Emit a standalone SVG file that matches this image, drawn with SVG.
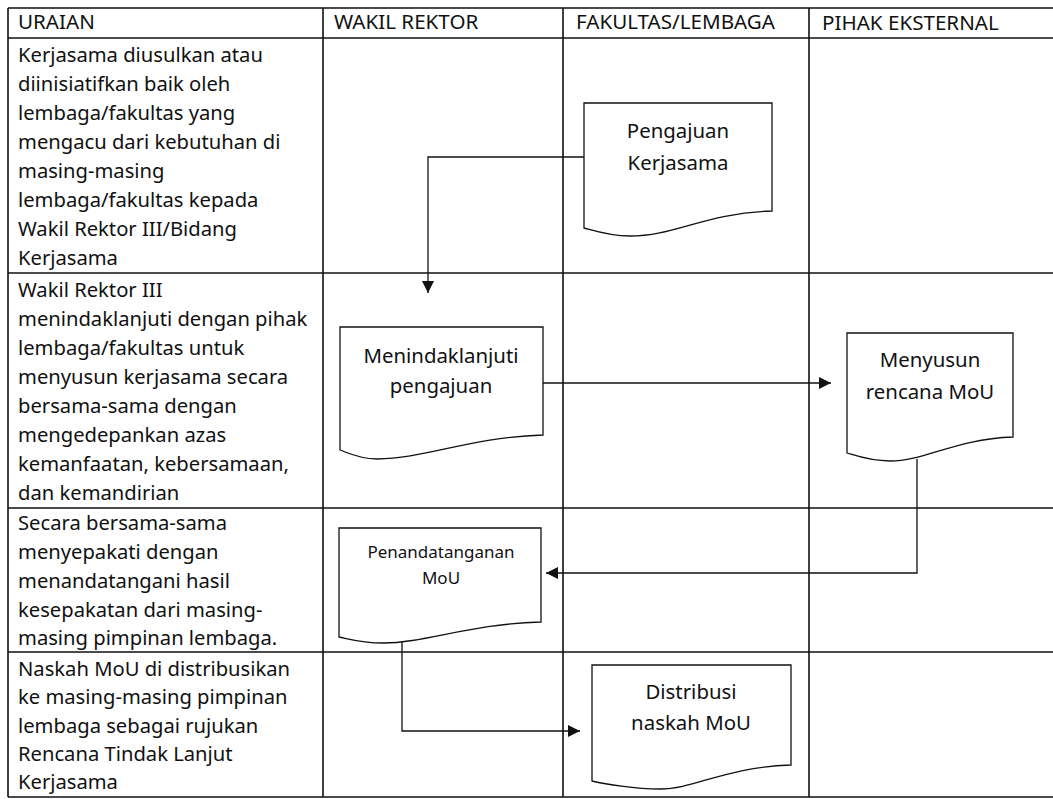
<svg xmlns="http://www.w3.org/2000/svg" width="1053" height="799" viewBox="0 0 1053 799">
<style>
.grid{stroke:#111;stroke-width:1.6;fill:none}
.doc{stroke:#111;stroke-width:1.3;fill:#fff}
.con{stroke:#111;stroke-width:1.3;fill:none}
text{font-family:"Noto Sans","Open Sans",sans-serif;fill:#111}
.h{font-size:20.6px}
.b{font-size:20.2px}
.c{font-size:20.4px;text-anchor:middle}
.s{font-size:17px;text-anchor:middle}
</style>
<defs>
<marker id="arr" markerUnits="userSpaceOnUse" markerWidth="12" markerHeight="12" viewBox="0 0 12 12" refX="12" refY="6" orient="auto">
<path d="M0,0 L12,6 L0,12 z" fill="#111"/>
</marker>
</defs>
<rect width="1053" height="799" fill="#fff"/>
<g id="table">
<path class="grid" d="M8,8 H1053 M8,38 H1053 M8,273 H1053 M8,508 H1053 M8,652 H1053 M8,797 H1053 M8,8 V797 M323,8 V797 M563,8 V797 M809,8 V797"/>
<text class="h" x="18" y="29">URAIAN</text>
<text class="h" x="334" y="29">WAKIL REKTOR</text>
<text class="h" x="576" y="29">FAKULTAS/LEMBAGA</text>
<text class="h" x="822" y="30">PIHAK EKSTERNAL</text>
</g>
<g id="uraian1">
<text class="b" x="18" y="62">Kerjasama diusulkan atau</text>
<text class="b" x="18" y="91">diinisiatifkan baik oleh</text>
<text class="b" x="18" y="120">lembaga/fakultas yang</text>
<text class="b" x="18" y="149">mengacu dari kebutuhan di</text>
<text class="b" x="18" y="178">masing-masing</text>
<text class="b" x="18" y="207">lembaga/fakultas kepada</text>
<text class="b" x="18" y="236">Wakil Rektor III/Bidang</text>
<text class="b" x="18" y="265">Kerjasama</text>
</g>
<g id="uraian2">
<text class="b" x="18" y="297">Wakil Rektor III</text>
<text class="b" x="18" y="326">menindaklanjuti dengan pihak</text>
<text class="b" x="18" y="355">lembaga/fakultas untuk</text>
<text class="b" x="18" y="384">menyusun kerjasama secara</text>
<text class="b" x="18" y="413">bersama-sama dengan</text>
<text class="b" x="18" y="442">mengedepankan azas</text>
<text class="b" x="18" y="471">kemanfaatan, kebersamaan,</text>
<text class="b" x="18" y="500">dan kemandirian</text>
</g>
<g id="uraian3">
<text class="b" x="18" y="530">Secara bersama-sama</text>
<text class="b" x="18" y="559">menyepakati dengan</text>
<text class="b" x="18" y="588">menandatangani hasil</text>
<text class="b" x="18" y="617">kesepakatan dari masing-</text>
<text class="b" x="18" y="645">masing pimpinan lembaga.</text>
</g>
<g id="uraian4">
<text class="b" x="18" y="676">Naskah MoU di distribusikan</text>
<text class="b" x="18" y="704">ke masing-masing pimpinan</text>
<text class="b" x="18" y="733">lembaga sebagai rujukan</text>
<text class="b" x="18" y="761">Rencana Tindak Lanjut</text>
<text class="b" x="18" y="789">Kerjasama</text>
</g>
<g id="connectors">
<path class="con" d="M584,157 H428 V293" marker-end="url(#arr)"/>
<path class="con" d="M543,383 H831" marker-end="url(#arr)"/>
<path class="con" d="M917,459 V573 H546" marker-end="url(#arr)"/>
<path class="con" d="M402,642 V731 H580" marker-end="url(#arr)"/>
</g>
<g id="pengajuan">
<path class="doc" d="M584,103 H772 V211 C705,213 675,236 630,236 C610,236 595,231 584,228 Z"/>
<text class="c" x="678" y="138">Pengajuan</text>
<text class="c" x="678" y="170">Kerjasama</text>
</g>
<g id="menindaklanjuti">
<path class="doc" d="M340,327 H543 V435 C470,437 425,459 377,459 C360,459 348,453 340,450 Z"/>
<text class="c" x="441" y="363">Menindaklanjuti</text>
<text class="c" x="441" y="393">pengajuan</text>
</g>
<g id="menyusun">
<path class="doc" d="M847,333 H1013 V437 C955,439 925,461 890,461 C870,461 857,456 847,453 Z"/>
<text class="c" x="930" y="367">Menyusun</text>
<text class="c" x="930" y="399">rencana MoU</text>
</g>
<g id="penandatanganan">
<path class="doc" d="M339,528 H541 V622 C470,624 425,643 383,643 C362,643 349,639 339,637 Z"/>
<text class="s" x="441" y="558">Penandatanganan</text>
<text class="s" x="441" y="584">MoU</text>
</g>
<g id="distribusi">
<path class="doc" d="M592,665 H791 V765 C725,767 695,789 660,789 C635,789 605,784 592,781 Z"/>
<text class="c" x="691" y="699">Distribusi</text>
<text class="c" x="691" y="730">naskah MoU</text>
</g>
</svg>
